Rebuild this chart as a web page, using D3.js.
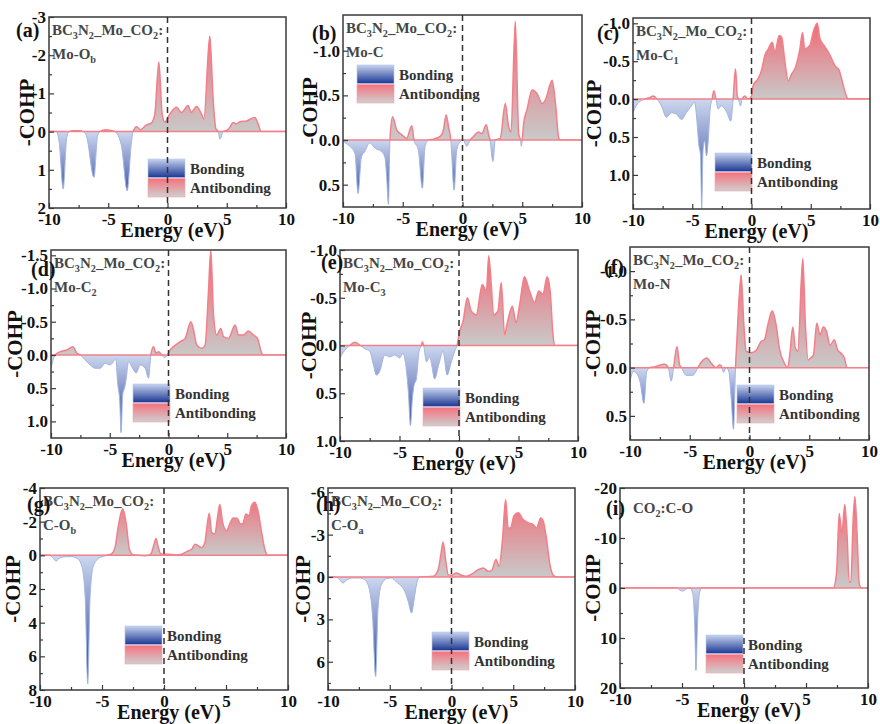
<!DOCTYPE html>
<html>
<head>
<meta charset="utf-8">
<script src="https://cdn.jsdelivr.net/npm/d3@7"></script>
<style>
  body { margin: 0; background: #fff; }
  svg text { font-family: "Liberation Serif", "Times New Roman", serif; font-weight: bold; }
</style>
</head>
<body>
<div id="chart"></div>
<script>
(function () {

    // --- COHP curves, [energy (eV), COHP] ---
    const cohpMoOb = [[-10,0],[-9.4,0],[-9.15,0.25],[-8.8,1.5],[-8.5,0.15],[-8.3,0],[-7.9,-0.02],[-7.5,-0.02],[-7.1,0],[-6.85,0.1],
        [-6.2,1.2],[-5.9,0.1],[-5.7,0],[-5.2,-0.05],[-4.7,-0.02],[-4.45,0],[-3.9,0.35],[-3.4,1.55],[-3.05,0.3],[-2.9,0],
        [-2.6,-0.13],[-2.3,-0.05],[-1.8,-0.17],[-1.35,-0.23],[-1.07,-0.45],[-0.73,-1.82],[-0.45,-0.45],[-0.22,-0.25],[0.2,-0.46],[0.76,-0.64],
        [1.18,-0.5],[1.74,-0.68],[2.0,-0.5],[2.45,-0.66],[2.87,-0.46],[3.07,-0.33],[3.57,-2.5],[3.85,-0.85],[4.08,-0.07],[4.28,0],
        [4.42,0.2],[4.7,0],[5.0,-0.03],[5.26,-0.11],[5.54,-0.24],[5.82,-0.2],[6.1,-0.26],[6.67,-0.28],[7.37,-0.37],[7.65,-0.2],
        [7.9,0],[8.2,0],[10,0]];
    const cohpMoC = [[-10,0.02],[-9.43,0.07],[-9.0,0.15],[-8.74,0.6],[-8.46,0.19],[-8.18,0.13],[-7.76,0.03],[-7.34,0.09],[-6.77,0.13],[-6.5,0.19],
        [-6.35,0.4],[-6.2,0.72],[-6.07,0],[-5.85,-0.26],[-5.5,-0.11],[-5.1,-0.06],[-4.67,-0.02],[-4.25,-0.16],[-4.06,0],[-3.7,0.11],
        [-3.36,0.54],[-3.13,0.07],[-2.85,0],[-2.43,-0.01],[-1.87,-0.04],[-1.6,-0.11],[-1.37,-0.28],[-1.17,-0.15],[-0.98,0],[-0.7,0.56],
        [-0.48,0.11],[-0.2,0.02],[0.05,0],[0.36,0.07],[0.64,0],[0.92,-0.04],[1.34,-0.09],[1.62,-0.07],[1.99,-0.17],[2.18,-0.06],
        [2.3,0],[2.55,0.24],[2.74,0],[3.16,-0.02],[3.58,-0.41],[3.86,-0.15],[4.06,-0.09],[4.42,-1.33],[4.7,-0.07],[4.85,0],
        [4.92,0.07],[5.0,0],[5.12,-0.19],[5.4,-0.34],[5.82,-0.56],[6.24,-0.52],[6.66,-0.41],[6.94,-0.45],[7.5,-0.67],[7.78,-0.41],
        [8.06,-0.02],[8.2,0],[10,0]];
    const cohpMoC1 = [[-10,0.18],[-9.7,0.08],[-9.3,0.02],[-9.0,0],[-8.6,-0.02],[-8.3,-0.04],[-7.97,0],[-7.6,0.09],[-7.18,0.24],[-6.76,0.18],
        [-6.34,0.2],[-5.9,0.27],[-5.5,0.18],[-5.07,0.09],[-4.8,0.04],[-4.6,0.3],[-4.45,0.6],[-4.3,0.75],[-4.2,1.44],[-4.1,0.7],
        [-3.95,0.55],[-3.8,0.75],[-3.65,0.55],[-3.5,0.15],[-3.32,0],[-3.18,-0.11],[-3.0,0],[-2.82,0.13],[-2.54,0.09],[-2.1,0.17],
        [-1.75,0.29],[-1.55,0],[-1.35,-0.4],[-1.2,-0.04],[-1.1,0],[-0.93,0.09],[-0.79,0],[-0.56,-0.04],[-0.28,0],[0,-0.04],
        [0.14,-0.18],[0.56,-0.27],[0.85,-0.38],[1.13,-0.58],[1.41,-0.66],[1.75,-0.75],[1.97,-0.62],[2.34,-0.84],[2.54,-0.82],[2.82,-0.49],
        [3.1,-0.24],[3.38,-0.33],[3.66,-0.4],[4.08,-0.66],[4.3,-0.88],[4.5,-0.66],[4.93,-0.71],[5.2,-0.88],[5.55,-1.0],[5.77,-0.8],
        [6.2,-0.69],[6.62,-0.58],[7.04,-0.44],[7.4,-0.38],[7.6,-0.27],[7.9,-0.09],[8.17,0],[10,0]];
    const cohpMoC2 = [[-10,0.2],[-9.65,0],[-9.2,-0.05],[-8.65,-0.075],[-8.14,-0.125],[-7.8,-0.025],[-7.5,0],[-7.1,0.075],[-6.67,0.15],[-6.24,0.2],
        [-5.8,0.2],[-5.4,0.125],[-4.96,0.15],[-4.68,0.1],[-4.48,0.05],[-4.34,0.4],[-4.15,0.7],[-4.03,1.17],[-3.9,0.6],[-3.75,0.5],
        [-3.63,0.4],[-3.4,0.1],[-3.06,0.2],[-2.75,0.27],[-2.4,0.15],[-1.99,0.2],[-1.7,0.35],[-1.5,0],[-1.28,-0.125],[-1.05,-0.025],
        [-0.85,-0.05],[-0.57,0],[-0.34,0.04],[-0.09,0],[0.14,-0.075],[0.43,-0.125],[1.0,-0.2],[1.42,-0.25],[1.9,-0.5],[2.13,-0.375],
        [2.4,-0.15],[2.84,-0.1],[3.12,-0.15],[3.4,-0.95],[3.6,-1.58],[3.83,-0.6],[4.1,-0.3],[4.45,-0.4],[4.68,-0.275],[5.1,-0.25],
        [5.67,-0.45],[5.96,-0.3],[6.38,-0.3],[6.8,-0.36],[7.23,-0.3],[7.57,-0.25],[7.94,-0.025],[8.1,0],[10,0]];
    const cohpMoC3 = [[-10,0.13],[-9.6,0.05],[-9.17,0],[-8.75,-0.035],[-8.3,0],[-7.9,0.035],[-7.5,0.06],[-7.2,0.2],[-6.94,0.31],[-6.66,0.27],
        [-6.24,0.1],[-5.82,0.12],[-5.4,0.1],[-4.98,0.13],[-4.7,0.08],[-4.48,0.2],[-4.25,0.5],[-4.08,0.84],[-3.92,0.56],[-3.78,0.42],
        [-3.58,0.35],[-3.36,0.06],[-3.16,0],[-3.08,-0.04],[-2.97,0],[-2.74,0.17],[-2.46,0.12],[-2.04,0.35],[-1.7,0.2],[-1.34,0.06],
        [-1.0,0.31],[-0.64,0.17],[-0.36,0.06],[-0.17,0],[0.06,-0.15],[0.34,-0.25],[0.7,-0.5],[1.03,-0.36],[1.45,-0.32],[1.96,-0.64],
        [2.3,-0.57],[2.5,-0.94],[2.71,-0.64],[2.9,-0.32],[3.27,-0.36],[3.55,-0.66],[3.83,-0.11],[4.03,-0.22],[4.48,-0.41],[4.8,-0.24],
        [5.1,-0.43],[5.5,-0.72],[5.93,-0.57],[6.35,-0.45],[6.71,-0.57],[7.05,-0.54],[7.41,-0.72],[7.66,-0.57],[7.9,-0.11],[8.08,0],[10,0]];
    const cohpMoN = [[-10,0.145],[-9.72,0.04],[-9.44,0.06],[-9.16,0.145],[-8.83,0.37],[-8.6,0.04],[-8.33,0],[-7.9,-0.01],[-7.1,-0.035],[-6.8,0],
        [-6.55,0.14],[-6.35,0],[-6.07,-0.22],[-5.85,-0.03],[-5.7,0],[-5.3,0.08],[-4.74,0.08],[-4.32,0],[-4.04,-0.055],[-3.57,-0.1],
        [-3.2,-0.045],[-2.8,0],[-2.5,-0.03],[-2.3,0],[-2.17,0.05],[-1.95,0],[-1.73,0.04],[-1.53,0.32],[-1.34,0.64],[-1.17,0],
        [-1.06,-0.27],[-0.7,-0.96],[-0.47,-0.44],[-0.28,-0.17],[0.14,-0.155],[0.56,-0.18],[0.97,-0.27],[1.25,-0.29],[1.53,-0.44],[1.9,-0.59],
        [2.23,-0.44],[2.5,-0.2],[2.92,-0.045],[3.2,0],[3.4,-0.17],[3.62,-0.42],[3.84,-0.2],[4.04,-0.17],[4.46,-1.13],[4.68,-0.44],
        [4.9,-0.08],[5.12,-0.1],[5.35,-0.13],[5.63,-0.46],[5.9,-0.34],[6.18,-0.42],[6.46,-0.37],[6.74,-0.23],[7.1,-0.29],[7.38,-0.18],
        [7.66,-0.15],[7.94,-0.1],[8.16,0],[10,0]];
    const cohpCOb = [[-10,0],[-9.3,0],[-9.05,0.08],[-8.7,0.34],[-8.38,0.14],[-7.84,0.08],[-7.43,0.08],[-6.98,0.2],[-6.63,0.64],[-6.36,2.44],
        [-6.15,7.64],[-5.96,2.44],[-5.7,0.64],[-5.29,0.2],[-4.89,0.06],[-4.6,0],[-4.21,-0.1],[-3.95,-0.46],[-3.68,-1.76],[-3.33,-2.76],
        [-3.06,-1.96],[-2.79,-0.36],[-2.52,-0.04],[-2.2,0],[-1.53,0.04],[-1.2,0],[-1.0,-0.16],[-0.8,-0.66],[-0.64,-1.0],[-0.46,-0.46],
        [-0.27,-0.1],[0,-0.06],[0.48,-0.06],[1.0,-0.02],[1.42,-0.06],[1.83,-0.22],[2.23,-0.36],[2.5,-0.66],[2.77,-0.56],[3.03,-0.46],
        [3.3,-0.76],[3.44,-1.56],[3.65,-2.5],[3.84,-1.36],[4.1,-1.26],[4.3,-2.16],[4.5,-3.02],[4.73,-1.96],[5.05,-1.46],[5.3,-1.86],
        [5.58,-2.22],[5.9,-2.2],[6.17,-1.86],[6.38,-1.92],[6.6,-2.46],[6.87,-2.36],[7.06,-2.96],[7.33,-3.16],[7.6,-2.56],[7.87,-1.36],
        [8.13,-0.36],[8.4,0],[10,0]];
    const cohpCOa = [[-10,0],[-9.5,0],[-9.19,0.07],[-8.78,0.43],[-8.46,0.19],[-7.97,0.07],[-7.43,0.07],[-7.03,0.19],[-6.68,0.78],[-6.4,2.67],
        [-6.14,7.04],[-5.95,2.2],[-5.68,0.54],[-5.27,0.12],[-4.86,0.07],[-4.51,0.31],[-4.19,0.54],[-3.78,1.02],[-3.51,1.72],[-3.24,2.55],
        [-2.97,1.25],[-2.78,0.31],[-2.57,0],[-1.49,-0.05],[-1.08,-0.52],[-0.86,-1.58],[-0.68,-2.48],[-0.46,-1.11],[-0.27,-0.17],[0,-0.12],
        [0.4,-0.28],[0.81,-0.12],[1.22,-0.05],[1.76,-0.28],[2.16,-0.52],[2.57,-0.64],[2.97,-0.4],[3.24,-0.45],[3.6,-1.23],[3.86,-0.76],
        [4.14,-2.76],[4.38,-5.48],[4.59,-3.47],[4.78,-3.47],[5.05,-4.3],[5.4,-4.54],[5.81,-4.06],[6.22,-3.83],[6.62,-3.71],[6.89,-3.47],
        [7.22,-4.18],[7.43,-3.95],[7.7,-2.65],[7.97,-0.87],[8.24,-0.12],[8.5,0],[10,0]];
    const cohpCO2 = [[-10,0],[-5.42,0],[-5.15,0.47],[-4.89,0.6],[-4.62,0.13],[-4.35,0],[-4.13,1.13],[-3.97,7.8],[-3.87,16.5],[-3.76,7.8],
        [-3.6,1.13],[-3.41,0],[7.19,0],[7.46,-2.9],[7.68,-14.9],[7.89,-10.9],[8.13,-16.7],[8.32,-10.2],[8.48,-1.2],[8.62,-1.2],
        [8.8,-13.5],[8.94,-18.3],[9.13,-10.2],[9.29,-0.87],[9.48,0],[10,0]];

    // tick values and labels
    const energyTicks = [-10, -5, 0, 5, 10];
    const energyMinor = [-7.5, -2.5, 2.5, 7.5];
    const legendLabels = ["Bonding", "Antibonding"];
    const prefix = [["BC"], ["3", 1], ["N"], ["2", 1], ["_Mo_CO"], ["2", 1], [":"]];

    // panel layout (pixel boxes are [left, top, right, bottom])
    const panels = [
        { tag: "(a)", data: cohpMoOb, title: [prefix, [["Mo-O"], ["b", 1]]], box: [49, 17, 286, 208], yDomain: [-3, 2], yTicks: [-3, -2, -1, 0, 1, 2], digits: 0, tagPos: [16, 37], legend: [148, 159], ylabX: 27 },
        { tag: "(b)", data: cohpMoC, title: [prefix, [["Mo-C"]]], box: [343, 15, 582, 207], yDomain: [-1.4, 0.75], yTicks: [-1, -0.5, 0, 0.5], digits: 1, tagPos: [312, 40], legend: [357, 65], ylabX: 310 },
        { tag: "(c)", data: cohpMoC1, title: [prefix, [["Mo-C"], ["1", 1]]], box: [633, 18, 870, 209], yDomain: [-1.07, 1.45], yTicks: [-1, -0.5, 0, 0.5, 1], digits: 1, tagPos: [597, 40], legend: [715, 153], ylabX: 594 },
        { tag: "(d)", data: cohpMoC2, title: [prefix, [["Mo-C"], ["2", 1]]], box: [51, 250, 286, 438], yDomain: [-1.58, 1.25], yTicks: [-1.5, -1, -0.5, 0, 0.5, 1], digits: 1, tagPos: [31, 276], legend: [133, 384], ylabX: 15 },
        { tag: "(e)", data: cohpMoC3, title: [prefix, [["Mo-C"], ["3", 1]]], box: [340, 250, 578, 441], yDomain: [-1, 1], yTicks: [-1, -0.5, 0, 0.5, 1], digits: 1, tagPos: [321, 269], legend: [423, 388], ylabX: 309 },
        { tag: "(f)", data: cohpMoN, title: [prefix, [["Mo-N"]]], box: [630, 247, 869, 440], yDomain: [-1.25, 0.75], yTicks: [-1, -0.5, 0, 0.5], digits: 1, tagPos: [604, 274], legend: [737, 385], ylabX: 593 },
        { tag: "(g)", data: cohpCOb, title: [prefix, [["C-O"], ["b", 1]]], box: [40, 488, 288, 690], yDomain: [-4, 8], yTicks: [-4, -2, 0, 2, 4, 6, 8], digits: 0, tagPos: [27, 511], legend: [125, 626], ylabX: 13 },
        { tag: "(h)", data: cohpCOa, title: [prefix, [["C-O"], ["a", 1]]], box: [328, 488, 575, 690], yDomain: [-6.3, 8], yTicks: [-6, -3, 0, 3, 6], digits: 0, tagPos: [316, 511], legend: [432, 632], ylabX: 303 },
        { tag: "(i)", data: cohpCO2, title: [[["CO"], ["2", 1], [":C-O"]]], box: [620, 488, 868, 688], yDomain: [-20, 20], yTicks: [-20, -10, 0, 10, 20], digits: 0, tagPos: [606, 515], legend: [706, 635], ylabX: 593, single: true }
    ];

    const W = 880, H = 724;
    const svg = d3.select("#chart").append("svg").attr("width", W).attr("height", H);
    const defs = svg.append("defs");

    // legend swatch gradients (object bounding box)
    const lgB = defs.append("linearGradient").attr("id", "lg-bond").attr("x1", 0).attr("x2", 0).attr("y1", 0).attr("y2", 1);
    lgB.append("stop").attr("offset", 0).attr("stop-color", "#c6d3ef");
    lgB.append("stop").attr("offset", 1).attr("stop-color", "#1b3793");
    const lgA = defs.append("linearGradient").attr("id", "lg-anti").attr("x1", 0).attr("x2", 0).attr("y1", 0).attr("y2", 1);
    lgA.append("stop").attr("offset", 0).attr("stop-color", "#f5727e");
    lgA.append("stop").attr("offset", 1).attr("stop-color", "#cfcfcf");

    // rich text with subscripts (shift carried to the next tspan)
    const addRich = (text, segs, size) => {
        let shift = 0;
        segs.forEach(s => {
            const sub = s[1] === 1;
            const target = sub ? 4 : 0;
            text.append("tspan")
                .attr("font-size", sub ? size * 0.68 : size)
                .attr("dy", target - shift)
                .text(s[0]);
            shift = target;
        });
    };

    panels.forEach((p, i) => {
        const [x0, y0, x1, y1] = p.box;
        const w = x1 - x0, h = y1 - y0;
        const x = d3.scaleLinear().domain([-10, 10]).range([0, w]);
        const y = d3.scaleLinear().domain(p.yDomain).range([0, h]);
        const zy = y(0);

        const g = svg.append("g").attr("transform", `translate(${x0},${y0})`);

        // gradients for the filled areas
        const ga = defs.append("linearGradient").attr("id", `anti-${i}`).attr("gradientUnits", "userSpaceOnUse")
            .attr("x1", 0).attr("x2", 0).attr("y1", zy).attr("y2", 0);
        ga.append("stop").attr("offset", 0).attr("stop-color", "#c9c9c9");
        ga.append("stop").attr("offset", 1).attr("stop-color", "#f4636f");
        const gb = defs.append("linearGradient").attr("id", `bond-${i}`).attr("gradientUnits", "userSpaceOnUse")
            .attr("x1", 0).attr("x2", 0).attr("y1", zy).attr("y2", h);
        gb.append("stop").attr("offset", 0).attr("stop-color", "#cdd7ef");
        gb.append("stop").attr("offset", 1).attr("stop-color", "#1a3592");

        defs.append("clipPath").attr("id", `top-${i}`).append("rect").attr("x", 0).attr("y", 0).attr("width", w).attr("height", zy);
        defs.append("clipPath").attr("id", `bot-${i}`).append("rect").attr("x", 0).attr("y", zy).attr("width", w).attr("height", h - zy);

        const area = d3.area().x(d => x(d[0])).y0(zy).y1(d => y(d[1])).curve(d3.curveMonotoneX);
        const line = d3.line().x(d => x(d[0])).y(d => y(d[1])).curve(d3.curveMonotoneX);

        g.append("path").datum(p.data).attr("d", area).attr("fill", `url(#anti-${i})`).attr("clip-path", `url(#top-${i})`);
        g.append("path").datum(p.data).attr("d", area).attr("fill", `url(#bond-${i})`).attr("clip-path", `url(#bot-${i})`);
        g.append("path").datum(p.data).attr("d", line).attr("fill", "none").attr("stroke", "#f47f89").attr("stroke-width", 1.5).attr("clip-path", `url(#top-${i})`);
        g.append("path").datum(p.data).attr("d", line).attr("fill", "none").attr("stroke", "#a3b5e0").attr("stroke-width", 1).attr("clip-path", `url(#bot-${i})`);
        g.append("line").attr("x1", 0).attr("x2", w).attr("y1", zy).attr("y2", zy).attr("stroke", "#f47f89").attr("stroke-width", 1.5);

        // axes (ticks point inward)
        const fmt = v => v.toFixed(p.digits);
        g.append("g").attr("transform", `translate(0,${h})`)
            .call(d3.axisBottom(x).tickValues(energyTicks).tickFormat(v => String(v)).tickSize(-5).tickPadding(5));
        g.append("g").attr("transform", `translate(0,${h})`)
            .call(d3.axisBottom(x).tickValues(energyMinor).tickFormat("").tickSize(-3));
        g.append("g").call(d3.axisLeft(y).tickValues(p.yTicks).tickFormat(fmt).tickSize(-5).tickPadding(3));
        const step = p.yTicks[1] - p.yTicks[0];
        const minor = p.yTicks.map(t => t + step / 2).filter(t => t > p.yDomain[0] && t < p.yDomain[1]);
        g.append("g").call(d3.axisLeft(y).tickValues(minor).tickFormat("").tickSize(-3));
        g.selectAll(".domain").remove();
        g.selectAll(".tick line").attr("stroke", "#3a3a3a").attr("stroke-width", 1.2);
        g.selectAll(".tick text").attr("font-size", 17).attr("fill", "#111");

        g.append("rect").attr("width", w).attr("height", h).attr("fill", "none").attr("stroke", "#3a3a3a").attr("stroke-width", 1.5);

        // legend
        const [lx, ly] = p.legend;
        const lg = svg.append("g").attr("transform", `translate(${lx},${ly})`);
        lg.append("rect").attr("width", 37).attr("height", 18.5).attr("fill", "url(#lg-bond)").attr("stroke", "#b7c6ea").attr("stroke-width", 0.6);
        lg.append("rect").attr("y", 19.5).attr("width", 37).attr("height", 18.5).attr("fill", "url(#lg-anti)").attr("stroke", "#f3a3aa").attr("stroke-width", 0.6);
        legendLabels.forEach((t, k) => {
            lg.append("text").attr("x", 42).attr("y", 14.5 + k * 19.5).attr("font-size", 15).attr("fill", "#333").text(t);
        });

        // title inside the box
        p.title.forEach((segs, k) => {
            const t = svg.append("text")
                .attr("x", x0 + (p.single ? 13 : 3))
                .attr("y", y0 + (p.single ? 25 : 18 + k * 24))
                .attr("fill", "#464646");
            addRich(t, segs, 15);
        });

        // dashed Fermi level
        svg.append("line").attr("x1", x0 + x(0)).attr("x2", x0 + x(0)).attr("y1", y0).attr("y2", y1)
            .attr("stroke", "#333").attr("stroke-width", 1.5).attr("stroke-dasharray", "6,4");

        // panel tag
        svg.append("text").attr("x", p.tagPos[0]).attr("y", p.tagPos[1]).attr("font-size", 20).attr("fill", "#111").text(p.tag);

        // axis titles
        svg.append("text").attr("x", x0 + w / 2 + 5).attr("y", y1 + 29).attr("text-anchor", "middle")
            .attr("font-size", 20).attr("fill", "#111").text("Energy (eV)");
        svg.append("text").attr("transform", `translate(${p.ylabX},${y0 + h / 2}) rotate(-90)`)
            .attr("text-anchor", "middle").attr("dy", "0.35em").attr("font-size", 21).attr("fill", "#111").text("-COHP");
    });
})();
</script>
</body>
</html>
